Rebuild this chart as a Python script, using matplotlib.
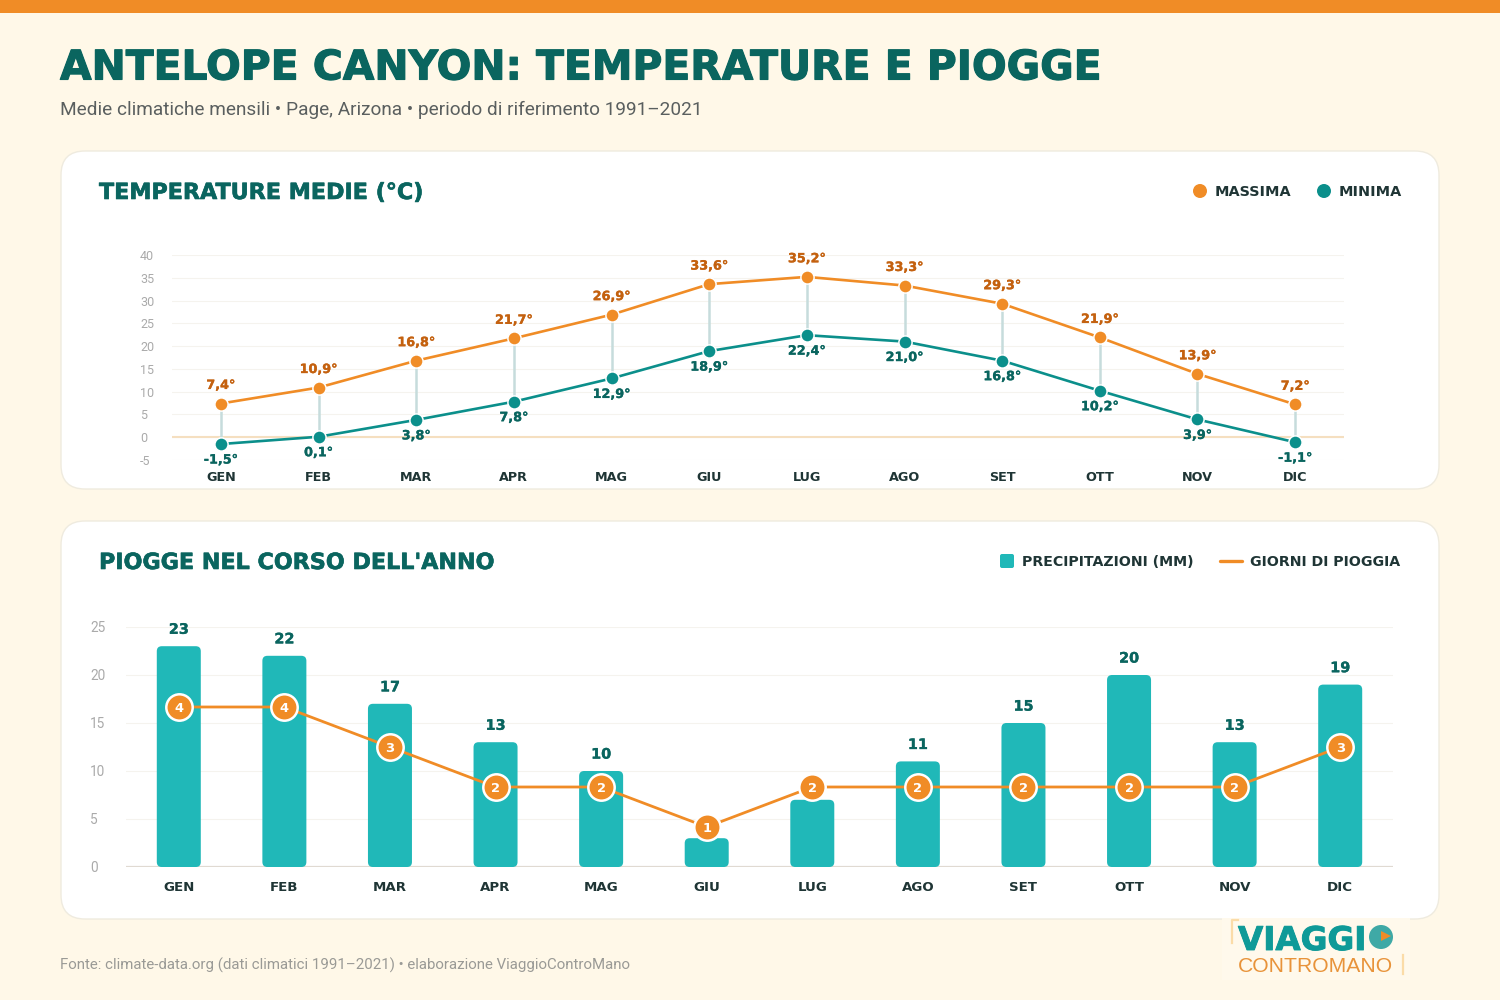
import matplotlib
matplotlib.use("Agg")
import matplotlib.pyplot as plt
import matplotlib.patheffects as pe
from matplotlib.patches import FancyBboxPatch, Rectangle, Circle

plt.rcParams["axes.unicode_minus"] = False

# Data
mesi = ["GEN", "FEB", "MAR", "APR", "MAG", "GIU", "LUG", "AGO", "SET", "OTT", "NOV", "DIC"]
t_max = [7.4, 10.9, 16.8, 21.7, 26.9, 33.6, 35.2, 33.3, 29.3, 21.9, 13.9, 7.2]
t_min = [-1.5, 0.1, 3.8, 7.8, 12.9, 18.9, 22.4, 21.0, 16.8, 10.2, 3.9, -1.1]
pioggia_mm = [23, 22, 17, 13, 10, 3, 7, 11, 15, 20, 13, 19]
giorni = [4, 4, 3, 2, 2, 1, 2, 2, 2, 2, 2, 3]
temp_ticks = [-5, 0, 5, 10, 15, 20, 25, 30, 35, 40]
mm_ticks = [0, 5, 10, 15, 20, 25]
# months whose mm label sits under a rainy-day circle in the reference
senza_etichetta = ["GIU", "LUG"]

# Colours
BG = "#fff8e8"
ORANGE = "#f08c26"
ORANGE_DK = "#c4610f"
TEAL = "#0b8f8b"
TEAL_DK = "#0a655f"
BAR = "#20b8b8"
DARK = "#1f3535"
HEAD = "DejaVu Sans"
BODY = "Roboto"

W, H = 1500, 1000
fig = plt.figure(figsize=(15, 10), dpi=100, facecolor=BG)

def px_axes(left, top, right, bottom):
    return fig.add_axes([left / W, 1 - bottom / H, (right - left) / W, (bottom - top) / H])

# background layer in pixel coordinates
bg = fig.add_axes([0, 0, 1, 1], zorder=0)
bg.set_xlim(0, W)
bg.set_ylim(H, 0)
bg.axis("off")
bg.add_patch(Rectangle((0, 0), W, 13, color=ORANGE, lw=0))

for x0, y0, x1, y1 in [(61, 151, 1439, 489), (61, 521, 1439, 919)]:
    bg.add_patch(FancyBboxPatch((x0, y0), x1 - x0, y1 - y0, boxstyle="round,pad=0,rounding_size=24",
                                fc="white", ec="#efebdf", lw=1))

# DejaVu bold is lighter than the original face, so thicken it a bit
def titolo(x, y, s, size, color):
    t = bg.text(x, y, s, family=HEAD, weight="bold", fontsize=size, color=color, va="center_baseline")
    t.set_path_effects([pe.withStroke(linewidth=size * 0.028, foreground=color)])
    return t

titolo(60, 64, "ANTELOPE CANYON: TEMPERATURE E PIOGGE", 29.4, TEAL_DK)
bg.text(60, 110, "Medie climatiche mensili • Page, Arizona • periodo di riferimento 1991–2021", family=BODY,
        fontsize=13.65, color="#5a5f5f", va="center")
titolo(99, 191, "TEMPERATURE MEDIE (°C)", 16, TEAL_DK)
titolo(99, 561, "PIOGGE NEL CORSO DELL'ANNO", 16, TEAL_DK)
bg.text(60, 965, "Fonte: climate-data.org (dati climatici 1991–2021) • elaborazione ViaggioControMano", family=BODY,
        fontsize=10.8, color="#9a9a96", va="center")

# legends
bg.add_patch(Circle((1200, 191), 7, color=ORANGE, lw=0))
bg.text(1215, 191, "MASSIMA", family=HEAD, weight="bold", fontsize=10.4, color=DARK, va="center_baseline")
bg.add_patch(Circle((1324, 191), 7, color=TEAL, lw=0))
bg.text(1339, 191, "MINIMA", family=HEAD, weight="bold", fontsize=10.4, color=DARK, va="center_baseline")
bg.add_patch(FancyBboxPatch((1000, 554), 14, 14, boxstyle="round,pad=0,rounding_size=2", fc=BAR, lw=0))
bg.text(1022, 561, "PRECIPITAZIONI (MM)", family=HEAD, weight="bold", fontsize=10.2, color=DARK, va="center_baseline")
bg.plot([1220, 1242], [561, 561], color=ORANGE, lw=2.4, solid_capstyle="round")
bg.text(1250, 561, "GIORNI DI PIOGGIA", family=HEAD, weight="bold", fontsize=10.2, color=DARK, va="center_baseline")

# logo
bg.add_patch(Rectangle((1222, 918), 188, 62, color="#fff9ec", lw=0))
bg.plot([1238, 1232, 1232], [920, 920, 943], color="#fbdca8", lw=1.6)
bg.plot([1403, 1403], [955, 974], color="#fbdca8", lw=1.6)
titolo(1238, 937, "VIAGGI", 23.5, "#0f9a98")
bg.add_patch(Circle((1381, 937), 12, color="#3fa9a6", lw=0))
bg.plot([1386], [936], marker=">", ms=7, color=ORANGE, mew=0)
bg.text(1238, 964, "CONTROMANO", family="Liberation Sans", fontsize=15.2, color="#e8933a", va="center_baseline")

# temperature chart
ax1 = px_axes(172, 255, 1344, 460)
ax1.patch.set_alpha(0)
ax1.set_zorder(2)
x = list(range(len(mesi)))
ax1.set_xlim(-0.5, 11.5)
ax1.set_ylim(-5, 40)
ax1.set_yticks(temp_ticks)
ax1.set_xticks(x, mesi)
ax1.grid(axis="y", color="#f5f3ee", lw=0.8)
ax1.set_axisbelow(True)
ax1.tick_params(length=0)
ax1.tick_params(axis="y", pad=23, labelsize=9, labelcolor="#aaaaaa")
ax1.tick_params(axis="x", pad=8, labelsize=9.2, labelcolor=DARK)
for lab in ax1.get_yticklabels():
    lab.set_ha("left")
    lab.set_family(BODY)
for lab in ax1.get_xticklabels():
    lab.set_family(HEAD)
    lab.set_weight("bold")
for s in ax1.spines.values():
    s.set_visible(False)
ax1.axhline(0, color="#f5dfc0", lw=1.5, zorder=1)
ax1.vlines(x, t_min, t_max, color="#c6dcdc", lw=1.8, zorder=2)
ax1.plot(x, t_max, color=ORANGE, lw=1.9, marker="o", ms=9.5, mec="white", mew=1.1, zorder=3)
ax1.plot(x, t_min, color=TEAL, lw=1.9, marker="o", ms=9.5, mec="white", mew=1.1, zorder=3)
for i in x:
    for vals, off, col in [(t_max, 13, ORANGE_DK), (t_min, -11.5, TEAL_DK)]:
        t = ax1.annotate(f"{vals[i]:.1f}°".replace(".", ","), (i, vals[i]), xytext=(0, off), textcoords="offset points",
                         ha="center", va="center", family=HEAD, weight="bold", fontsize=9.2, color=col, zorder=4)
        t.set_path_effects([pe.withStroke(linewidth=0.2, foreground=col)])

# rain chart
ax2 = px_axes(126, 627, 1393, 867)
ax2.patch.set_alpha(0)
ax2.set_zorder(2)
ax2.set_xlim(-0.5, 11.5)
ax2.set_ylim(0, 25)
ax2.set_yticks(mm_ticks)
ax2.set_xticks(x, mesi)
ax2.grid(axis="y", color="#f5f3ee", lw=0.8)
ax2.set_axisbelow(True)
ax2.tick_params(length=0)
ax2.tick_params(axis="y", pad=26, labelsize=9.8, labelcolor="#aaaaaa")
ax2.tick_params(axis="x", pad=10, labelsize=9.6, labelcolor=DARK)
for lab in ax2.get_yticklabels():
    lab.set_ha("left")
    lab.set_family(BODY)
for lab in ax2.get_xticklabels():
    lab.set_family(HEAD)
    lab.set_weight("bold")
for s in ax2.spines.values():
    s.set_visible(False)
ax2.axhline(0, color="#e0dad2", lw=1.6, zorder=1)

# bars with rounded corners, aspect keeps the corners round in pixels
bar_w = 44 / (1267 / 12)
aspect = (25 / 240) / (12 / 1267)
for i, v in zip(x, pioggia_mm):
    ax2.add_patch(FancyBboxPatch((i - bar_w / 2, 0), bar_w, v, boxstyle=f"round,pad=0,rounding_size={5 * 12 / 1267}",
                                 mutation_aspect=aspect, fc=BAR, lw=0, zorder=2))
    if mesi[i] in senza_etichetta:
        continue
    t = ax2.annotate(str(v), (i, v), xytext=(0, 11.8), textcoords="offset points", ha="center", va="center",
                     family=HEAD, weight="bold", fontsize=10.4, color=TEAL_DK, zorder=3)
    t.set_path_effects([pe.withStroke(linewidth=0.2, foreground=TEAL_DK)])

# rainy days on hidden second scale
ax3 = ax2.twinx()
ax3.set_zorder(3)
ax3.patch.set_alpha(0)
ax3.set_ylim(0, 6)
ax3.axis("off")
ax3.plot(x, giorni, color=ORANGE, lw=2, zorder=3)
ax3.plot(x, giorni, ls="none", marker="o", ms=19, mfc=ORANGE, mec="white", mew=1.8, zorder=4)
for i, g in zip(x, giorni):
    ax3.text(i, g, str(g), ha="center", va="center_baseline", family=HEAD, weight="bold", fontsize=9.4, color="white", zorder=5)

fig.savefig("out.png", dpi=100, facecolor=BG)
